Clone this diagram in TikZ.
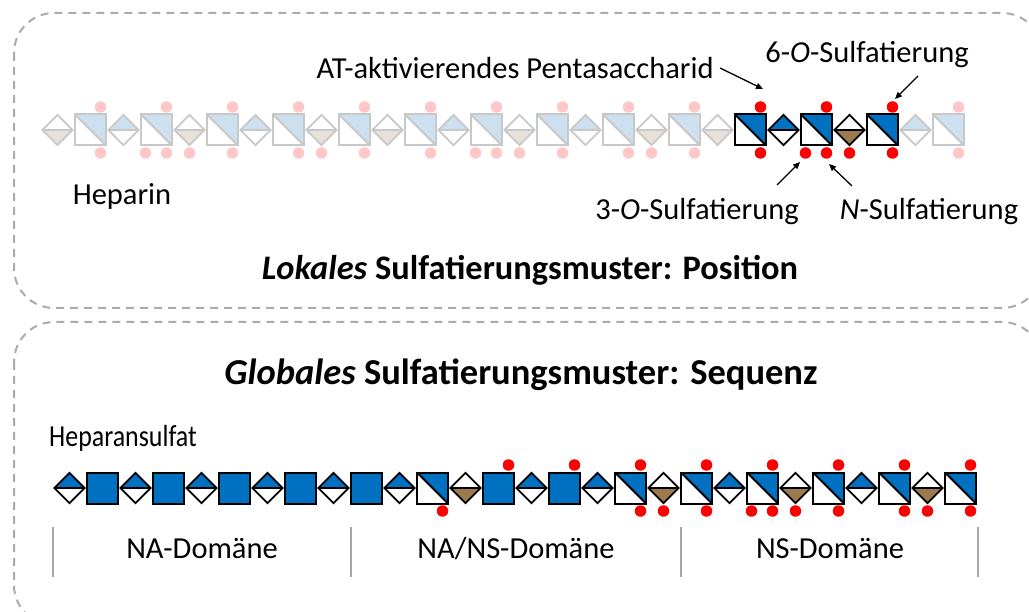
\documentclass[tikz,border=0pt]{standalone}
\usepackage{fontspec}
\usepackage{graphicx}
\setmainfont{Carlito}
\usetikzlibrary{shapes.geometric,arrows.meta}
\definecolor{gblue}{HTML}{0070C0}
\definecolor{gbrown}{HTML}{9C7A4C}
\definecolor{lblue}{HTML}{CCE0F0}
\definecolor{lbrown}{HTML}{E8E1DA}
\definecolor{lgray}{HTML}{C8C8C8}
\definecolor{lpink}{HTML}{FFC7C7}
\definecolor{boxgray}{HTML}{ABABAB}
\definecolor{sepgray}{HTML}{A6A6A6}
\def\offT{10,-23}
\def\offR{10,23}
\def\offL{-11,23}
\def\offD{-33,23}
\tikzset{
  sqbase/.style={rectangle, minimum size=31pt, inner sep=0pt, line width=2pt},
  lh/.style={sqbase, draw=lgray, fill=white, path picture={
      \fill[lblue] (path picture bounding box.north west) -- (path picture bounding box.north east) -- (path picture bounding box.south east) -- cycle;
      \draw[lgray, line width=2pt] (path picture bounding box.north west) -- (path picture bounding box.south east);}},
  dh/.style={sqbase, draw=black, fill=white, path picture={
      \fill[gblue] (path picture bounding box.north west) -- (path picture bounding box.north east) -- (path picture bounding box.south east) -- cycle;
      \draw[black, line width=2pt] (path picture bounding box.north west) -- (path picture bounding box.south east);}},
  df/.style={sqbase, draw=black, fill=gblue},
  diabase/.style={diamond, aspect=1, minimum size=31pt, inner sep=0pt, line width=1.8pt},
  lbt/.style={diabase, draw=lgray, fill=white, path picture={
      \fill[lblue] (path picture bounding box.north west) rectangle (path picture bounding box.east);
      \draw[lgray, line width=1.8pt] (path picture bounding box.west) -- (path picture bounding box.east);}},
  lbb/.style={diabase, draw=lgray, fill=white, path picture={
      \fill[lbrown] (path picture bounding box.west) rectangle (path picture bounding box.south east);
      \draw[lgray, line width=1.8pt] (path picture bounding box.west) -- (path picture bounding box.east);}},
  dbt/.style={diabase, draw=black, fill=white, path picture={
      \fill[gblue] (path picture bounding box.north west) rectangle (path picture bounding box.east);
      \draw[black, line width=1.8pt] (path picture bounding box.west) -- (path picture bounding box.east);}},
  dbb/.style={diabase, draw=black, fill=white, path picture={
      \fill[gbrown] (path picture bounding box.west) rectangle (path picture bounding box.south east);
      \draw[black, line width=1.8pt] (path picture bounding box.west) -- (path picture bounding box.east);}},
  sdot/.style={circle, inner sep=0pt, minimum size=11.5pt, draw=none},
  boxline/.style={draw=boxgray, line width=2pt, dash pattern=on 8pt off 6pt, rounded corners=40pt},
  sepline/.style={draw=sepgray, line width=1.2pt},
  lbl/.style={font=\fontsize{30.5}{34}\selectfont, inner sep=0pt},
  ttl/.style={font=\fontsize{34.4}{38}\selectfont\bfseries, inner sep=0pt},
  arr/.style={-{Triangle[length=7pt,width=6pt]}, line width=1.3pt, black}
}
\begin{document}
\begin{tikzpicture}[x=1pt, y=-1pt]
\useasboundingbox (0,0) rectangle (1029,612);
\clip (0,0) rectangle (1029,612);
% frames
\draw[boxline] (14,13) rectangle (1042,308);
\draw[boxline] (14,322) rectangle (1042,625);
% top chain (heparin)
\foreach \k/\ds/\ss [evaluate=\k as \cx using 90.5+66*(\k-1)] in
  {1/lbb/lh, 2/lbt/lh, 3/lbb/lh, 4/lbt/lh, 5/lbb/lh, 6/lbb/lh, 7/lbt/lh,
   8/lbb/lh, 9/lbt/lh, 10/lbb/lh, 11/lbb/dh, 12/dbt/dh, 13/dbb/dh, 14/lbt/lh}{
  \node[\ds] (td\k) at (\cx-33,130) {};
  \node[\ss] (ts\k) at (\cx,130) {};
}
\foreach \k/\p/\c in
  {1/T/lpink, 1/R/lpink, 2/T/lpink, 2/L/lpink, 2/R/lpink, 3/D/lpink, 3/T/lpink, 3/R/lpink,
   4/T/lpink, 4/R/lpink, 5/D/lpink, 5/T/lpink, 5/R/lpink, 6/T/lpink, 6/R/lpink,
   7/T/lpink, 7/L/lpink, 7/R/lpink, 8/D/lpink, 8/T/lpink, 8/R/lpink, 9/T/lpink, 9/R/lpink,
   10/D/lpink, 10/T/lpink, 10/R/lpink, 11/T/red, 11/R/red, 12/T/red, 12/L/red, 12/R/red,
   13/D/red, 13/T/red, 13/R/red, 14/T/lpink, 14/R/lpink}{
  \node[sdot, fill=\c] (tdot\k\p) at ([shift={(\csname off\p\endcsname)}]ts\k.center) {};
}
% bottom chain (heparan sulfate)
\foreach \k/\ds/\ss [evaluate=\k as \cx using 102.5+66*(\k-1)] in
  {1/dbt/df, 2/dbt/df, 3/dbt/df, 4/dbt/df, 5/dbt/df, 6/dbt/dh, 7/dbb/df,
   8/dbt/df, 9/dbt/dh, 10/dbb/dh, 11/dbt/dh, 12/dbb/dh, 13/dbt/dh, 14/dbb/dh}{
  \node[\ds] (bd\k) at (\cx-33,488) {};
  \node[\ss] (bs\k) at (\cx,488) {};
}
\foreach \k/\p in
  {6/R, 7/T, 8/T, 9/T, 9/R, 10/D, 10/T, 10/R, 11/T, 11/L, 11/R,
   12/D, 12/T, 12/R, 13/T, 13/R, 14/D, 14/T, 14/R}{
  \node[sdot, fill=red] (bdot\k\p) at ([shift={(\csname off\p\endcsname)}]bs\k.center) {};
}
% labels top
\node[lbl] (hep) at (122,196) {Heparin};
\node[lbl] (atp) at (515,68) {AT-aktivierendes Pentasaccharid};
\node[lbl] (six) at (867,55) {6-\textit{O}-Sulfatierung};
\node[lbl] (three) at (697,212) {3-\textit{O}-Sulfatierung};
\node[lbl] (nsul) at (929,212) {\textit{N}-Sulfatierung};
\node[ttl] (t1) at (530,270) {\textit{Lokales} Sulfatierungsmuster: Position};
% arrows
\coordinate (atA) at (720,68);  \coordinate (atB) at (763,89);
\coordinate (sxA) at (918,76);  \coordinate (sxB) at (895,99);
\coordinate (thA) at (777,185); \coordinate (thB) at (800,162);
\coordinate (nsA) at (852,186); \coordinate (nsB) at (829,164);
\draw[arr] (atA) -- (atB);
\draw[arr] (sxA) -- (sxB);
\draw[arr] (thA) -- (thB);
\draw[arr] (nsA) -- (nsB);
% bottom labels
\node[ttl, font=\fontsize{36.5}{40}\selectfont\bfseries] (t2) at (521,375) {\textit{Globales} Sulfatierungsmuster: Sequenz};
\node[lbl] (hs) at (123,438) {\scalebox{0.85}[1]{Heparansulfat}};
\coordinate (s1a) at (53,527);  \coordinate (s1b) at (53,577);
\coordinate (s2a) at (351,527); \coordinate (s2b) at (351,577);
\coordinate (s3a) at (681,527); \coordinate (s3b) at (681,577);
\coordinate (s4a) at (978,527); \coordinate (s4b) at (978,577);
\draw[sepline] (s1a) -- (s1b);
\draw[sepline] (s2a) -- (s2b);
\draw[sepline] (s3a) -- (s3b);
\draw[sepline] (s4a) -- (s4b);
\node[lbl] (na) at (202,549) {NA-Domäne};
\node[lbl] (nans) at (516,549) {NA/NS-Domäne};
\node[lbl] (ns) at (830,549) {NS-Domäne};
\end{tikzpicture}
\end{document}
